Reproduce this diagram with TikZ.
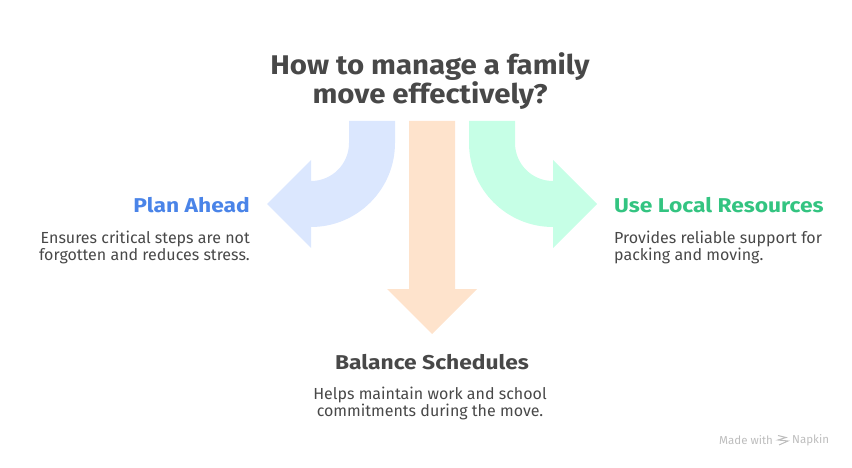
\documentclass[tikz,border=0pt]{standalone}
\usepackage{fontspec}
\setmainfont{Fira Sans}
\newfontfamily\titlefont[FakeStretch=1.09]{Fira Sans}
\newfontfamily\headfont[FakeStretch=1.14]{Fira Sans}
\usetikzlibrary{positioning}
\definecolor{inkgray}{HTML}{484848}
\definecolor{markgray}{HTML}{BDBDBD}
\definecolor{planblue}{HTML}{4A84E8}
\definecolor{usegreen}{HTML}{33C481}
\definecolor{planfill}{HTML}{DBE7FE}
\definecolor{balancefill}{HTML}{FEE3CC}
\definecolor{usefill}{HTML}{C6FFE6}

\begin{document}
\begin{tikzpicture}[ x=1pt, y=-1pt,
      titletext/.style={font=\titlefont\fontsize{27pt}{29pt}\selectfont\bfseries, text=inkgray, align=center, inner sep=0pt},
      headtext/.style={font=\headfont\fontsize{20pt}{22pt}\selectfont\bfseries, inner sep=0pt},
      bodytext/.style={font=\fontsize{16pt}{17.7pt}\selectfont, text=inkgray, inner sep=0pt},
      marktext/.style={font=\fontsize{11.5pt}{13pt}\selectfont, text=markgray, inner sep=0pt},
      markline/.style={draw=markgray, line width=1pt} ]

    \useasboundingbox (0,0) rectangle (852,468);

    % Title
    \node[titletext] (title) at (430,81) {How to manage a family\\move effectively?};

    % Bent arrow to the left
    \fill[planfill] (349,121) -- (395,121) -- (395,143) arc (0:90:84) -- (311,248)
    -- (267,204) -- (311,160) -- (311,181) arc (90:0:38) -- cycle;

    % Straight arrow down
    \fill[balancefill] (409,121) -- (455,121) -- (455,289) -- (477,289) -- (432,334)
    -- (387,289) -- (409,289) -- cycle;

    % Bent arrow to the right
    \fill[usefill] (515,121) -- (469,121) -- (469,143) arc (180:90:84) -- (553,248)
    -- (597,204) -- (553,160) -- (553,181) arc (90:180:38) -- cycle;

    % Plan Ahead
    \node[headtext, text=planblue, anchor=east] (plan) at (250,205.5) {Plan Ahead};
    \node[bodytext, anchor=north east, align=right] (plantext) at (250,230.5)
    {Ensures critical steps are not\\forgotten and reduces stress.};

    % Use Local Resources
    \node[headtext, text=usegreen, anchor=west] (use) at (614,205.5) {Use Local Resources};
    \node[bodytext, anchor=north west, align=left] (usetext) at (614,230.5)
    {Provides reliable support for\\packing and moving.};

    % Balance Schedules
    \node[headtext, text=inkgray] (balance) at (432,362) {Balance Schedules};
    \node[bodytext, anchor=north, align=center] (balancetext) at (430,386.5)
    {Helps maintain work and school\\commitments during the move.};

    % Watermark
    \node[marktext, anchor=west] (madewith) at (719,440) {Made with};
    \node[marktext, anchor=west] (napkin) at (792,440) {Napkin};
    \draw[markline] (778,435.5) -- (786,437.5) -- (778,440) -- (788,441) -- (779,445);

\end{tikzpicture}
\end{document}
